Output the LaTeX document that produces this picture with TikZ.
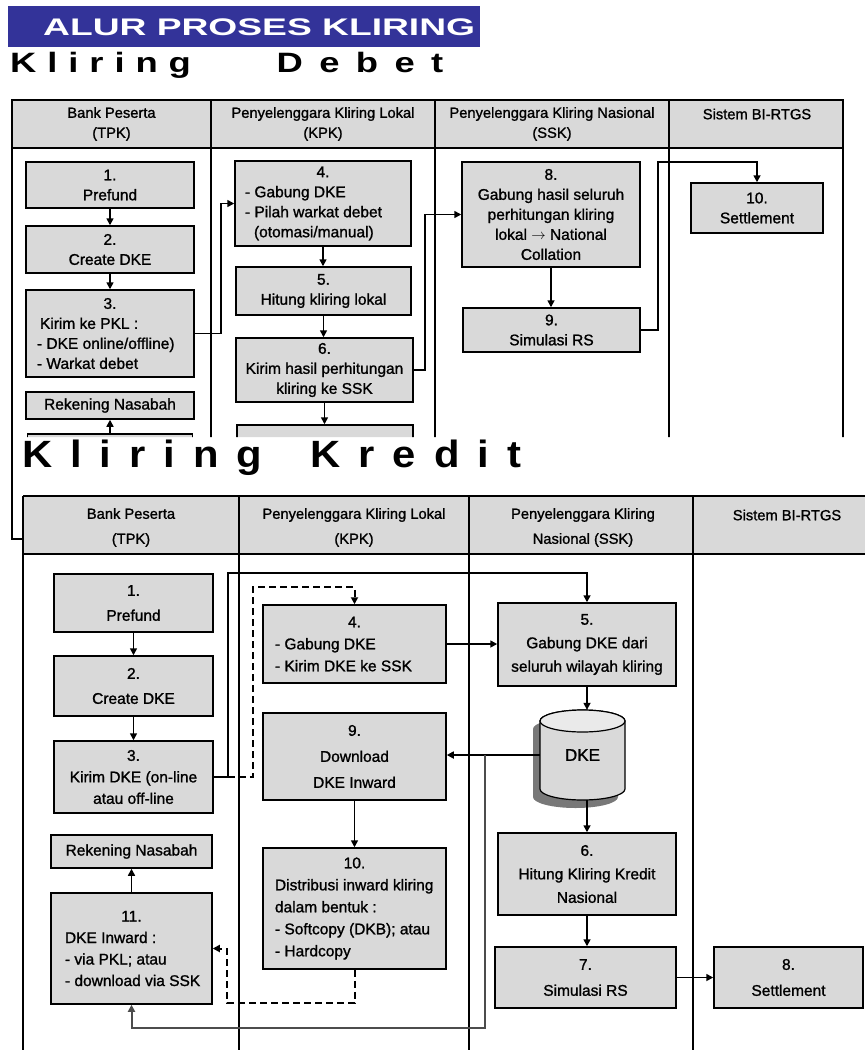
\documentclass[tikz,border=0pt]{standalone}
\usepackage{fontspec}
\setmainfont{Liberation Sans}
\newfontfamily\boxfont[FakeBold=1.2]{Liberation Sans}
\usepackage{graphicx}
\usetikzlibrary{arrows.meta,calc}

\definecolor{titleblue}{RGB}{51,51,153}
\definecolor{boxgray}{RGB}{217,217,217}
\definecolor{capgray}{RGB}{234,234,234}
\definecolor{shadegray}{RGB}{120,120,120}

% left aligned line inside a centred box
\newcommand{\lft}[2][150pt]{\makebox[#1][l]{#2}}

\begin{document}
\begin{tikzpicture}[x=1pt, y=-1pt,
    every node/.style={font=\boxfont\fontsize{15.5}{20}\selectfont},
    box/.style={draw, line width=1.5pt, fill=boxgray, inner sep=0pt, align=center},
    kbox/.style={box, font=\boxfont\fontsize{15.5}{#1}\selectfont},
    kbox/.default=23.5,
    head/.style={align=center, font=\boxfont\fontsize{14.7}{20}\selectfont},
    khead/.style={align=center, font=\boxfont\fontsize{14.7}{25}\selectfont},
    flow/.style={line width=1.6pt, -{Triangle[length=7pt,width=7pt]}},
    back/.style={flow, line width=2pt, dash pattern=on 7pt off 4pt},
    grid/.style={line width=1.6pt}]

    \useasboundingbox (0,0) rectangle (865,1050);

    % Title bar
    \fill[titleblue] (8,6) rectangle (480,47);
    \node[anchor=base west, inner sep=0pt, text=white,
          font=\fontsize{24}{24}\selectfont\bfseries] (title) at (43,35)
        {\scalebox{1.55}[1]{ALUR PROSES KLIRING}};

    % Section heading: debet
    \node[anchor=base west, inner sep=0pt,
          font=\fontsize{28}{28}\selectfont\bfseries] (debtitle) at (10,72)
        {\scalebox{1.3}[1]{\makebox[205pt][l]{\addfontfeature{LetterSpace=30}Kliring}\addfontfeature{LetterSpace=45}Debet}};

    % ---------------- Kliring Debet (cut off at the bottom) ----------------
    \begin{scope}
    \clip (0,0) rectangle (865,437) (0,437) rectangle (22,560);

    % Table frame and header row
    \fill[boxgray] (12,100) rectangle (843,148);
    \draw[grid] (12,100) rectangle (843,539);
    \draw[grid] (12,148) -- (843,148);
    \draw[grid] (211,100) -- (211,539) (435,100) -- (435,539) (669,100) -- (669,539);

    % Column headings
    \node[head] (dh1) at (111.5,124) {Bank Peserta\\(TPK)};
    \node[head] (dh2) at (323,124) {Penyelenggara Kliring Lokal\\(KPK)};
    \node[head] (dh3) at (552,124) {Penyelenggara Kliring Nasional\\(SSK)};
    \node[head] (dh4) at (757,114) {Sistem BI-RTGS};

    % Bank Peserta
    \node[box, minimum width=168pt, minimum height=46pt] (d1) at (110,185) {1.\\Prefund};
    \node[box, minimum width=168pt, minimum height=47pt] (d2) at (110,249.5) {2.\\Create DKE};
    \node[box, minimum width=168pt, minimum height=87pt] (d3) at (110,333.5)
        {3.\\\lft[146pt]{\hspace{3pt}Kirim ke PKL :}\\\lft[146pt]{- DKE online/offline)}\\\lft[146pt]{- Warkat debet}};
    \node[box, minimum width=168pt, minimum height=27pt] (drek) at (110,405.5) {Rekening Nasabah};
    \node[box, minimum width=165pt, minimum height=40pt] (d11) at (110,454) {};

    % Penyelenggara Kliring Lokal
    \node[box, minimum width=176pt, minimum height=85pt] (d4) at (323,203.5)
        {4.\\\lft[156pt]{- Gabung DKE}\\\lft[156pt]{- Pilah warkat debet}\\\lft[156pt]{\hspace{9pt}(otomasi/manual)}};
    \node[box, minimum width=175pt, minimum height=48pt] (d5) at (323.5,291) {5.\\Hitung kliring lokal};
    \node[box, minimum width=177pt, minimum height=64pt] (d6) at (324.5,370) {6.\\Kirim hasil perhitungan\\kliring ke SSK};
    \node[box, minimum width=176pt, minimum height=50pt] (d7) at (325,450) {};

    % Penyelenggara Kliring Nasional
    \node[box, minimum width=178pt, minimum height=105pt] (d8) at (551,214.5)
        {8.\\Gabung hasil seluruh\\perhitungan kliring\\lokal $\rightarrow$ National\\Collation};
    \node[box, minimum width=177pt, minimum height=44pt] (d9) at (551.5,330) {9.\\Simulasi RS};

    % Sistem BI-RTGS
    \node[box, minimum width=132pt, minimum height=50pt] (d10) at (757,208) {10.\\Settlement};

    % Flow
    \draw[flow] (d1) -- (d2);
    \draw[flow] (d2) -- (d3);
    \draw[flow] (d11) -- (drek);
    \draw[flow] (d3.east) -- ++(26,0) |- (d4.west);
    \draw[flow] (d4.south) -- (d4.south |- d5.north);
    \draw[flow] (d5.south) -- (d5.south |- d6.north);
    \draw[flow] (d6.south) -- (d6.south |- d7.north);
    \draw[flow] (d6.east) -- ++(11,0) |- (d8.west);
    \draw[flow] (d8.south) -- (d8.south |- d9.north);
    \draw[flow] (d9.east) -- ++(17,0) |- ([shift={(0,-20)}]d10.north) -- (d10.north);
    \end{scope}

    % ---------------- Kliring Kredit ----------------
    \node[anchor=base west, inner sep=0pt,
          font=\fontsize{38}{38}\selectfont\bfseries] (kredtitle) at (22,467)
        {\scalebox{1.1}[1]{\addfontfeature{LetterSpace=43}\makebox[262pt][l]{Kliring}Kredit}};

    % Table frame and header row
    \fill[boxgray] (23,496) rectangle (865,554);
    \draw[grid] (23,496) -- (865,496) (23,554) -- (865,554);
    \draw[grid] (23,496) -- (23,1050) (239,496) -- (239,1050) (469,496) -- (469,1050) (693,496) -- (693,1050);

    % Column headings
    \node[khead] (kh1) at (131,527.5) {Bank Peserta\\(TPK)};
    \node[khead] (kh2) at (354,527.5) {Penyelenggara Kliring Lokal\\(KPK)};
    \node[khead] (kh3) at (583,527.5) {Penyelenggara Kliring\\Nasional (SSK)};
    \node[khead] (kh4) at (787,515) {Sistem BI-RTGS};

    % Bank Peserta
    \node[kbox=25, minimum width=159pt, minimum height=58pt] (k1) at (133.5,603) {1.\\Prefund};
    \node[kbox=25, minimum width=159pt, minimum height=60pt] (k2) at (133.5,686) {2.\\Create DKE};
    \node[kbox=21.5, minimum width=159pt, minimum height=72pt] (k3) at (133.5,777) {3.\\Kirim DKE (on-line\\atau off-line};
    \node[kbox, minimum width=161pt, minimum height=33pt] (krek) at (131.5,851.5) {Rekening Nasabah};
    \node[kbox=21.5, minimum width=161pt, minimum height=111pt] (k11) at (131.5,948.5)
        {11.\\\lft[133pt]{DKE Inward :}\\\lft[133pt]{- via PKL; atau}\\\lft[133pt]{- download via SSK}};

    % Penyelenggara Kliring Lokal
    \node[kbox=22, minimum width=183pt, minimum height=78pt] (k4) at (354.5,644)
        {4.\\\lft[159pt]{- Gabung DKE}\\\lft[159pt]{- Kirim DKE ke SSK}};
    \node[kbox=26, minimum width=183pt, minimum height=87pt] (k9) at (354.5,756.5) {9.\\Download\\DKE Inward};
    \node[kbox=22, minimum width=183pt, minimum height=121pt] (k10) at (354.5,908.5)
        {10.\\\lft[159pt]{Distribusi inward kliring}\\\lft[159pt]{dalam bentuk :}\\\lft[159pt]{- Softcopy (DKB); atau}\\\lft[159pt]{- Hardcopy}};

    % Penyelenggara Kliring Nasional
    \node[kbox, minimum width=178pt, minimum height=83pt] (k5) at (587,644.5) {5.\\Gabung DKE dari\\seluruh wilayah kliring};

    % DKE store: shadow, body, top
    \coordinate (dkec) at (582.5,755);
    \fill[shadegray] ([shift={(-49.5,-26)}]dkec) -- ++(0,68) arc[start angle=180, end angle=0, x radius=42.5, y radius=11]
        -- ++(0,-68) arc[start angle=0, end angle=-180, x radius=42.5, y radius=11] -- cycle;
    \filldraw[fill=boxgray, line width=1.2pt] ([shift={(-42.5,-34)}]dkec) -- ++(0,68) arc[start angle=180, end angle=0, x radius=42.5, y radius=11]
        -- ++(0,-68) arc[start angle=0, end angle=-180, x radius=42.5, y radius=11] -- cycle;
    \filldraw[fill=capgray, line width=1.2pt] ([shift={(0,-34)}]dkec) ellipse [x radius=42.5, y radius=11];
    \node[minimum width=85pt, minimum height=90pt, inner sep=0pt, font=\boxfont\fontsize{17}{20}\selectfont] (dke) at (dkec) {\raisebox{-6pt}{DKE}};

    \node[kbox, minimum width=178pt, minimum height=82pt] (k6) at (587,874) {6.\\Hitung Kliring Kredit\\Nasional};
    \node[kbox=26, minimum width=181pt, minimum height=61pt] (k7) at (585.5,977.5) {7.\\Simulasi RS};

    % Sistem BI-RTGS
    \node[kbox=26, minimum width=149pt, minimum height=61pt] (k8) at (788.5,977.5) {8.\\Settlement};

    % Flow
    \draw[flow] (k1) -- (k2);
    \draw[flow] (k2) -- (k3);
    \draw[flow] (k11) -- (krek);
    \draw[flow] (k3.east) -- ++(14,0) coordinate (ksplit) |- ([shift={(0,-29)}]k5.north) -- (k5.north);
    \draw[back] (ksplit) -- ++(25,0) |- ([shift={(0,-17)}]k4.north) -- (k4.north);
    \draw[flow] (k4.east) -- (k4.east -| k5.west);
    \draw[flow] (k5.south) -- (k5.south |- dke.north);
    \draw[flow] (dke.west) -- (dke.west -| k9.east);
    \draw[flow] (k9) -- (k10);
    \draw[back] (k10.south) -- ++(0,33) -| ([shift={(14,0)}]k11.east) -- (k11.east);
    \draw[flow] (k6.north |- dke.south) -- (k6.north);
    \draw[flow] (k6.south) -- (k6.south |- k7.north);
    \draw[flow] (k7.east) -- (k7.east -| k8.west);
    \coordinate (ktap) at ($(dke.west)+(-55,0)$);
    \draw[flow, draw=black!70, line width=2pt] (ktap) |- ([shift={(0,23)}]k11.south) -- (k11.south);

\end{tikzpicture}
\end{document}
